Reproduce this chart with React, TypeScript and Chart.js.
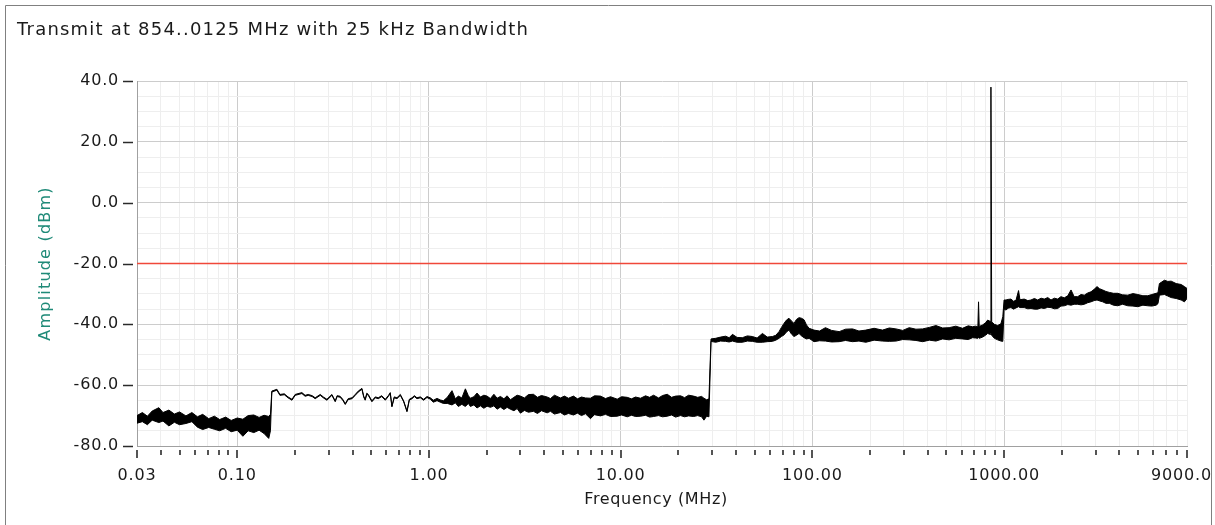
import React, { useEffect, useRef } from "react";
import { Chart, registerables } from "chart.js";

Chart.register(...registerables);

const chartTitle = "Transmit at 854..0125 MHz with 25 kHz Bandwidth";
const xAxisTitle = "Frequency (MHz)";
const yAxisTitle = "Amplitude (dBm)";

const xMajorTicks = [0.03, 0.1, 1, 10, 100, 1000, 9000];
const xMajorLabels = ["0.03", "0.10", "1.00", "10.00", "100.00", "1000.00", "9000.00"];
const xDecadeGrid = [0.1, 1, 10, 100, 1000];
const xMinorTicks = [
  0.04, 0.05, 0.06, 0.07, 0.08, 0.09,
  0.2, 0.3, 0.4, 0.5, 0.6, 0.7, 0.8, 0.9,
  2, 3, 4, 5, 6, 7, 8, 9,
  20, 30, 40, 50, 60, 70, 80, 90,
  200, 300, 400, 500, 600, 700, 800, 900,
  2000, 3000, 4000, 5000, 6000, 7000, 8000,
];
const yMin = -80;
const yMax = 40;
const yLabelStep = 20;
const yGridStep = 5;

const limitFreqMHz = [0.03, 9000];
const limitDbm = [-20, -20];

// Measured spectrum trace: upper and lower envelope of the noisy trace
const freqMHz = [
  // 0.03 - 0.15 MHz
  0.030, 0.032, 0.034, 0.036, 0.039, 0.041, 0.044, 0.047, 0.050, 0.054,
  0.058, 0.062, 0.066, 0.071, 0.076, 0.081, 0.087, 0.093, 0.100, 0.107,
  0.114, 0.122, 0.130, 0.138, 0.146, 0.149,
  // 0.15 - 1.2 MHz (thin trace)
  0.1515, 0.161, 0.167, 0.176, 0.184, 0.193, 0.2005, 0.2174, 0.226, 0.2345,
  0.246, 0.255, 0.271, 0.281, 0.2936, 0.3117, 0.3244, 0.332, 0.344, 0.355,
  0.366, 0.379, 0.397, 0.4125, 0.428, 0.447, 0.457, 0.465, 0.474, 0.4825,
  0.504, 0.525, 0.544, 0.567, 0.592, 0.6135, 0.6285, 0.641, 0.659, 0.681,
  0.709, 0.738, 0.768, 0.790, 0.816, 0.839, 0.866, 0.9015, 0.938, 0.977,
  1.016, 1.054, 1.102, 1.146, 1.189,
  // 1.2 - 30 MHz
  1.247, 1.319, 1.373, 1.4235, 1.485, 1.549, 1.606, 1.645, 1.715, 1.782,
  1.855, 1.934, 2.010, 2.092, 2.182, 2.267, 2.359, 2.460, 2.557, 2.660,
  2.775, 2.884, 3.000, 3.148, 3.303, 3.508, 3.681, 3.862, 4.137, 4.304,
  4.515, 4.853, 5.092, 5.343, 5.675, 5.955, 6.245, 6.554, 6.960, 7.302,
  7.850, 8.335, 8.853, 9.596, 10.11, 10.82, 11.39, 11.96, 12.70, 13.49,
  14.15, 14.85, 15.77, 16.54, 17.51, 18.43, 19.34, 20.54, 21.55, 22.62,
  24.02, 25.21, 26.45, 27.19, 28.09, 28.87,
  // 30 - 1000 MHz
  29.6, 31.3, 33.2, 35.3, 36.8, 38.3, 40.5, 43.1, 45.8, 48.6,
  51.5, 54.9, 58.2, 61.9, 64.5, 67.0, 69.0, 71.1, 73.3, 75.5,
  77.8, 80.2, 82.6, 85.2, 87.8, 90.5, 93.2, 96.1, 102, 109,
  117, 126, 138, 149, 162, 175, 190, 210, 232, 252,
  273, 296, 320, 347, 376, 408, 441, 478, 517, 560,
  607, 650, 685, 710, 730, 736, 742, 773, 800, 821,
  845, 854, 862, 890, 926, 963, 985,
  // 1000 - 9000 MHz
  1000, 1023, 1050, 1086, 1120, 1154, 1190, 1210, 1274, 1330,
  1381, 1440, 1497, 1560, 1621, 1690, 1757, 1830, 1904, 1980,
  2062, 2150, 2235, 2320, 2422, 2520, 2622, 2730, 2842, 2950,
  3054, 3150, 3270, 3400, 3540, 3720, 3918, 4150, 4419, 4700,
  4983, 5300, 5619, 5900, 6210, 6350, 6462, 6864, 7150, 7440,
  7899, 8389, 8727, 9000,
];

const upperDbm = [
  -70.0, -69.0, -70.2, -68.5, -67.4, -69.0, -68.2, -69.5, -68.8, -70.1,
  -69.0, -70.4, -69.6, -71.0, -70.2, -71.3, -70.5, -71.6, -70.8, -71.2,
  -70.0, -69.8, -70.6, -69.9, -70.3, -69.6,
  -61.95, -61.35, -63.05, -62.85, -63.85, -64.65, -63.05, -62.45, -63.35, -63.05,
  -63.45, -64.15, -63.05, -63.85, -64.65, -63.05, -65.15, -63.45, -63.65, -64.65,
  -66.05, -64.45, -64.15, -63.05, -61.95, -61.05, -63.65, -64.65, -62.65, -63.05,
  -65.15, -63.85, -64.15, -63.45, -64.65, -63.45, -62.45, -66.85, -63.85, -64.15,
  -63.05, -65.15, -68.45, -64.65, -64.15, -63.45, -64.15, -63.85, -64.65, -63.75,
  -64.15, -64.95, -64.35, -64.85, -65.15,
  -64.0, -61.8, -64.5, -63.6, -64.2, -61.2, -63.5, -64.3, -63.8, -62.6,
  -63.9, -63.3, -63.6, -64.4, -63.0, -64.3, -63.7, -64.5, -63.5, -64.8,
  -64.0, -63.3, -63.6, -64.2, -63.1, -63.0, -64.0, -63.4, -63.9, -64.4,
  -63.3, -64.2, -63.6, -64.3, -63.6, -64.5, -63.9, -64.2, -64.3, -63.5,
  -63.6, -64.4, -63.8, -64.6, -63.8, -64.0, -64.5, -63.9, -64.3, -63.5,
  -64.0, -63.3, -64.2, -63.4, -63.0, -64.0, -63.6, -63.5, -64.1, -63.3,
  -63.6, -64.0, -63.7, -64.3, -64.8, -64.5,
  -44.8, -44.6, -44.2, -43.9, -44.4, -43.3, -44.3, -44.4, -43.8, -44.0,
  -44.5, -43.0, -44.2, -44.0, -43.6, -42.4, -41.0, -39.7, -38.6, -38.0,
  -38.9, -39.7, -38.4, -37.8, -38.0, -38.5, -40.2, -41.3, -41.9, -42.2,
  -41.1, -42.0, -42.4, -41.6, -41.5, -42.2, -41.9, -41.3, -41.9, -41.2,
  -41.5, -42.0, -41.1, -41.6, -41.5, -41.0, -40.4, -41.2, -41.1, -40.6,
  -41.3, -40.5, -40.8, -40.6, -40.8, -32.6, -40.7, -40.2, -39.5, -38.6,
  -39.0, 38.0, -39.2, -40.0, -40.4, -39.8, -37.5,
  -32.0, -32.0, -31.8, -31.7, -32.4, -32.1, -28.9, -31.9, -31.7, -32.2,
  -32.0, -31.5, -32.0, -31.4, -31.7, -31.2, -32.0, -31.4, -31.7, -30.9,
  -31.3, -30.6, -28.7, -30.9, -30.9, -30.2, -30.4, -29.7, -29.3, -28.5,
  -27.6, -28.3, -28.7, -29.2, -29.5, -29.8, -29.8, -30.3, -30.4, -29.9,
  -30.2, -30.6, -30.6, -30.2, -29.8, -29.6, -26.6, -25.5, -25.9, -25.8,
  -26.6, -26.9, -27.6, -28.2,
];

const lowerDbm = [
  -72.5, -72.0, -73.0, -71.5, -72.3, -71.8, -73.4, -72.2, -73.0, -72.6,
  -72.0, -73.8, -74.6, -73.9, -74.5, -75.0, -74.2, -75.3, -74.8, -76.8,
  -75.0, -75.6, -74.8, -75.9, -77.5, -75.0,
  -62.25, -61.65, -63.35, -63.15, -64.15, -64.95, -63.35, -62.75, -63.65, -63.35,
  -63.75, -64.45, -63.35, -64.15, -64.95, -63.35, -65.45, -63.75, -63.95, -64.95,
  -66.35, -64.75, -64.45, -63.35, -62.25, -61.35, -63.95, -64.95, -62.95, -63.35,
  -65.45, -64.15, -64.45, -63.75, -64.95, -63.75, -62.75, -67.15, -64.15, -64.45,
  -63.35, -65.45, -68.75, -64.95, -64.45, -63.75, -64.45, -64.15, -64.95, -64.05,
  -64.6, -65.6, -65.1, -65.6, -66.0,
  -66.0, -66.5, -65.8, -67.0, -66.3, -67.0, -66.0, -67.0, -66.5, -67.5,
  -66.8, -67.6, -66.9, -67.3, -66.8, -67.9, -67.2, -68.0, -67.3, -67.9,
  -68.4, -67.7, -69.2, -68.3, -68.9, -68.6, -69.3, -68.4, -69.1, -68.6,
  -69.5, -69.0, -69.8, -69.3, -69.8, -69.2, -70.0, -69.4, -71.0, -69.7,
  -70.1, -69.6, -70.3, -70.2, -69.8, -70.4, -69.9, -70.3, -70.2, -69.9,
  -70.5, -70.3, -70.0, -70.4, -70.2, -69.8, -70.5, -70.0, -70.4, -70.1,
  -70.3, -70.0, -70.4, -71.5, -70.2, -70.4,
  -45.6, -45.9, -45.5, -45.6, -45.8, -45.5, -45.9, -45.9, -45.5, -45.6,
  -45.9, -45.9, -45.7, -45.6, -45.2, -44.6, -44.0, -43.5, -42.5, -41.9,
  -43.2, -44.0, -43.6, -43.0, -43.8, -44.4, -44.8, -44.6, -45.7, -45.4,
  -45.5, -45.8, -45.7, -45.3, -45.7, -45.5, -45.9, -45.2, -45.5, -45.6,
  -45.5, -45.0, -45.1, -45.3, -45.7, -45.2, -45.5, -44.8, -45.1, -44.6,
  -44.8, -45.0, -44.4, -44.5, -44.6, -44.3, -44.6, -44.2, -43.6, -43.0,
  -43.3, -42.8, -43.6, -44.6, -45.1, -45.5, -45.6,
  -35.0, -35.3, -34.7, -34.5, -35.0, -34.6, -34.2, -34.5, -34.5, -34.9,
  -34.8, -35.0, -35.0, -34.6, -34.8, -34.4, -34.5, -34.9, -34.8, -34.0,
  -33.9, -33.5, -33.7, -33.4, -33.4, -33.6, -33.4, -32.9, -32.6, -32.2,
  -32.0, -32.3, -32.6, -33.1, -33.1, -33.7, -33.9, -33.4, -33.9, -34.0,
  -34.2, -33.7, -33.9, -34.0, -33.7, -33.2, -30.4, -30.2, -30.7, -31.2,
  -31.5, -32.0, -32.6, -31.5,
];

const FONT = "DejaVu Sans";

export default function App() {
  const canvasRef = useRef<HTMLCanvasElement | null>(null);

  useEffect(() => {
    const canvas = canvasRef.current;
    if (!canvas) return;

    const lowerPts = freqMHz.map((f, i) => ({ x: f, y: lowerDbm[i] }));
    const upperPts = freqMHz.map((f, i) => ({ x: f, y: upperDbm[i] }));
    const limitPts = limitFreqMHz.map((f, i) => ({ x: f, y: limitDbm[i] }));
    const xTicks = [...xMajorTicks, ...xMinorTicks].sort((a, b) => a - b);
    const near = (a: number, b: number) => Math.abs(a - b) / b < 1e-6;
    const majorIndex = (v: number) => xMajorTicks.findIndex((m) => near(v, m));
    const isDecade = (v: number) => xDecadeGrid.some((m) => near(v, m));

    const spacing = {
      id: "spacing",
      beforeDraw(chart: any) {
        (chart.ctx as any).letterSpacing = "0.8px";
      },
    };

    const decor = {
      id: "decor",
      afterDraw(chart: any) {
        const { ctx, chartArea, scales } = chart;
        const xs = scales.x;
        const ys = scales.y;
        ctx.save();
        ctx.strokeStyle = "#2a2a2a";
        // y tick dashes
        ctx.lineWidth = 1.5;
        for (let v = yMin; v <= yMax; v += yLabelStep) {
          const py = Math.round(ys.getPixelForValue(v)) + 0.5;
          ctx.beginPath();
          ctx.moveTo(chartArea.left - 14, py);
          ctx.lineTo(chartArea.left - 4, py);
          ctx.stroke();
        }
        // x tick marks
        for (const v of xTicks) {
          const px = Math.round(xs.getPixelForValue(v));
          const major = majorIndex(v) >= 0;
          ctx.lineWidth = 1.6;
          ctx.beginPath();
          ctx.moveTo(px, chartArea.bottom + 4);
          ctx.lineTo(px, chartArea.bottom + (major ? 12 : 9));
          ctx.stroke();
        }
        // title
        ctx.fillStyle = "#1a1a1a";
        ctx.letterSpacing = "1.2px";
        ctx.font = `18px "${FONT}"`;
        ctx.textAlign = "left";
        ctx.textBaseline = "middle";
        ctx.fillText(chartTitle, 17, 30);
        // x axis title
        ctx.letterSpacing = "0.6px";
        ctx.font = `16px "${FONT}"`;
        ctx.textAlign = "center";
        ctx.fillText(xAxisTitle, 656, 500);
        // y axis title
        ctx.save();
        ctx.translate(46, (chartArea.top + chartArea.bottom) / 2);
        ctx.rotate(-Math.PI / 2);
        ctx.fillStyle = "#1f8a78";
        ctx.letterSpacing = "1.2px";
        ctx.fillText(yAxisTitle, 0, 0);
        ctx.restore();
        // frame
        ctx.fillStyle = "#ffffff";
        ctx.fillRect(1212, 0, 3, 525);
        ctx.strokeStyle = "#808080";
        ctx.lineWidth = 1;
        ctx.beginPath();
        ctx.moveTo(5.5, 530);
        ctx.lineTo(5.5, 5.5);
        ctx.lineTo(1211.5, 5.5);
        ctx.lineTo(1211.5, 530);
        ctx.stroke();
        ctx.restore();
      },
    };

    const chart = new Chart(canvas, {
      type: "line",
      data: {
        datasets: [
          {
            label: "lower",
            data: lowerPts,
            borderColor: "#000000",
            borderWidth: 1,
            pointRadius: 0,
            fill: false,
            order: 1,
          },
          {
            label: "upper",
            data: upperPts,
            borderColor: "#000000",
            backgroundColor: "#000000",
            borderWidth: 1,
            pointRadius: 0,
            fill: "-1",
            order: 1,
          },
          {
            label: "limit",
            data: limitPts,
            borderColor: "#f0483a",
            borderWidth: 1.5,
            pointRadius: 0,
            fill: false,
            order: 2,
          },
        ],
      },
      options: {
        responsive: false,
        animation: false,
        devicePixelRatio: 1,
        layout: { padding: { top: 81, right: 28, left: 0, bottom: 0 } },
        plugins: {
          legend: { display: false },
          tooltip: { enabled: false },
          title: { display: false },
        },
        elements: { line: { tension: 0 }, point: { radius: 0 } },
        scales: {
          x: {
            type: "logarithmic",
            min: 0.03,
            max: 9000,
            afterBuildTicks: (s: any) => {
              s.ticks = xTicks.map((v) => ({ value: v }));
            },
            afterFit: (s: any) => {
              s.height = 79;
              s.paddingLeft = 0;
              s.paddingRight = 0;
            },
            ticks: {
              autoSkip: false,
              maxRotation: 0,
              minRotation: 0,
              padding: 20,
              color: "#1a1a1a",
              font: { family: FONT, size: 16 },
              callback: (v: any) => {
                const i = majorIndex(Number(v));
                return i >= 0 ? xMajorLabels[i] : "";
              },
            },
            grid: {
              drawTicks: false,
              lineWidth: 1,
              color: (c: any) => (c.tick && isDecade(c.tick.value) ? "#cccccc" : "#eeeeee"),
            },
            border: { display: true, color: "#a0a0a0", width: 1 },
          },
          y: {
            type: "linear",
            min: yMin,
            max: yMax,
            afterFit: (s: any) => {
              s.width = 137;
            },
            ticks: {
              stepSize: yGridStep,
              autoSkip: false,
              padding: 18,
              color: "#1a1a1a",
              font: { family: FONT, size: 16 },
              callback: (v: any) => (Number(v) % yLabelStep === 0 ? Number(v).toFixed(1) : ""),
            },
            grid: {
              drawTicks: false,
              lineWidth: 1,
              color: (c: any) => (c.tick && c.tick.value % yLabelStep === 0 ? "#cccccc" : "#eeeeee"),
            },
            border: { display: true, color: "#a0a0a0", width: 1 },
          },
        },
      },
      plugins: [spacing, decor],
    } as any);

    return () => chart.destroy();
  }, []);

  return (
    <div style={{ position: "absolute", left: 0, top: 0, width: 1215, height: 525, background: "#ffffff" }}>
      <canvas ref={canvasRef} width={1215} height={525} style={{ display: "block", width: 1215, height: 525 }} />
    </div>
  );
}
